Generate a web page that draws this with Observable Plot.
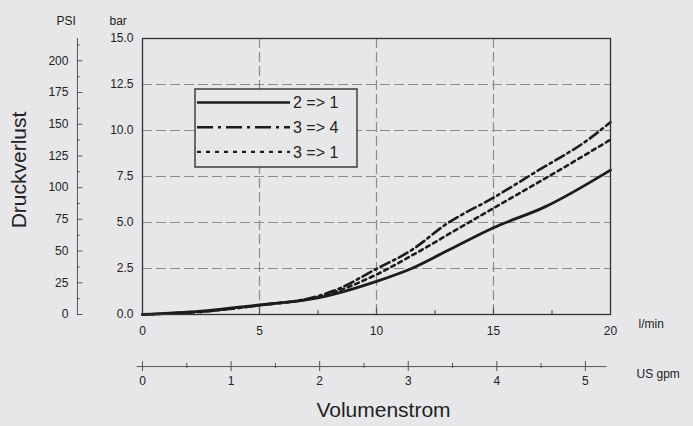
<!DOCTYPE html>
<html>
<head>
<meta charset="utf-8">
<script src="https://cdn.jsdelivr.net/npm/d3@7"></script>
<script src="https://cdn.jsdelivr.net/npm/@observablehq/plot@0.6"></script>
<style>
  html, body { margin: 0; padding: 0; background: #e7e7e9; }
  #chart { position: relative; width: 693px; height: 426px; }
</style>
</head>
<body>
<div id="chart"></div>
<script>
// ---- data ----
const flow21 = [0, 2.5, 5, 7.5, 10, 11.5, 13, 15, 17.2, 20];
const dp21   = [0, 0.18, 0.52, 0.9, 1.8, 2.5, 3.45, 4.72, 5.85, 7.85];
const flow34 = [0, 2.5, 5, 7.5, 8.2, 10, 11.5, 13, 15, 17, 19, 20];
const dp34   = [0, 0.15, 0.5, 1.0, 1.3, 2.48, 3.5, 4.93, 6.35, 7.9, 9.46, 10.45];
const flow31 = [0, 2.5, 5, 7.5, 10, 11.5, 13, 15, 17.3, 20];
const dp31   = [0, 0.15, 0.5, 0.95, 2.17, 3.2, 4.3, 5.78, 7.46, 9.5];

const seriesLabels = ["2 => 1", "3 => 4", "3 => 1"];
const xTicks = [0, 5, 10, 15, 20];           // l/min
const xMinor = [2.5, 7.5, 12.5, 17.5];
const yTicks = [0, 2.5, 5, 7.5, 10, 12.5, 15]; // bar
const psiMajor = [0, 25, 50, 75, 100, 125, 150, 175, 200];
const psiMinor = [12.5, 37.5, 62.5, 87.5, 112.5, 137.5, 162.5, 187.5, 212.5];
const gpmMajor = [0, 1, 2, 3, 4, 5];
const gpmMinor = [0.5, 1.5, 2.5, 3.5, 4.5];

const PSI_PER_BAR = 14.5038;
const L_PER_GAL = 3.78541;

const toRows = (xs, ys) => xs.map((f, i) => ({flow: f, dp: ys[i]}));
const s21 = toRows(flow21, dp21);
const s34 = toRows(flow34, dp34);
const s31 = toRows(flow31, dp31);

// layout helpers (secondary axes placed in scale units outside the frame)
const psiX = -2.78;   // l/min position of the PSI axis line
const gpmY = -2.83;   // bar position of the gpm axis line

const font = "'Liberation Sans', Arial, Helvetica, sans-serif";
const ink = "#222";
const axisInk = "#555";
const lineInk = "#1c1c1c";
const gridStyle = {stroke: "#8c8c8c", strokeOpacity: 1, strokeWidth: 1.2, strokeDasharray: "10,4"};

const plot = Plot.plot({
  width: 693,
  height: 426,
  marginLeft: 142,
  marginRight: 83,
  marginTop: 38,
  marginBottom: 112,
  style: {background: "transparent", fontFamily: font, fontSize: "12px", color: ink, overflow: "visible"},
  x: {domain: [0, 20], ticks: xTicks, tickSize: 0, tickPadding: 12, label: null},
  y: {domain: [0, 15], ticks: yTicks, tickSize: 0, tickPadding: 9, tickFormat: d3.format(".1f"), label: null},
  marks: [
    // grid
    Plot.ruleX(xTicks.slice(1, -1), gridStyle),
    Plot.ruleY(yTicks.slice(1, -1), gridStyle),
    // bottom ticks
    Plot.ruleX(xMinor, {y1: 0, y2: 0.2, stroke: "#333", strokeWidth: 1}),
    Plot.ruleX(xTicks.slice(1, -1), {y1: 0, y2: 0.35, stroke: "#555", strokeWidth: 1.2}),
    // curves
    Plot.line(s21, {x: "flow", y: "dp", stroke: lineInk, strokeWidth: 2.8, curve: "monotone-x"}),
    Plot.line(s34, {x: "flow", y: "dp", stroke: lineInk, strokeWidth: 2.6, strokeDasharray: "10,4,2.5,4", curve: "monotone-x"}),
    Plot.line(s31, {x: "flow", y: "dp", stroke: lineInk, strokeWidth: 2.6, strokeDasharray: "4,4", curve: "monotone-x"}),
    Plot.frame({stroke: "#333", strokeWidth: 1.3}),
    // PSI axis
    Plot.ruleX([psiX], {y1: 0, y2: 15, stroke: axisInk, strokeWidth: 1}),
    Plot.ruleY(psiMajor, {y: p => p / PSI_PER_BAR, x1: psiX, x2: psiX + 0.23, stroke: axisInk, strokeWidth: 1}),
    Plot.ruleY(psiMinor, {y: p => p / PSI_PER_BAR, x1: psiX, x2: psiX + 0.12, stroke: axisInk, strokeWidth: 1}),
    Plot.text(psiMajor, {x: psiX, y: p => p / PSI_PER_BAR, text: d => String(d), textAnchor: "end", dx: -9, fill: ink, fontSize: 12}),
    // US gpm axis
    Plot.ruleY([gpmY], {x1: -0.23, x2: 19.86, stroke: axisInk, strokeWidth: 1}),
    Plot.ruleX(gpmMajor, {x: g => g * L_PER_GAL, y1: gpmY - 0.27, y2: gpmY + 0.27, stroke: axisInk, strokeWidth: 1}),
    Plot.ruleX(gpmMinor, {x: g => g * L_PER_GAL, y1: gpmY - 0.1, y2: gpmY + 0.17, stroke: axisInk, strokeWidth: 1}),
    Plot.text(gpmMajor, {x: g => g * L_PER_GAL, y: gpmY, dy: 15, text: d => String(d), fill: ink, fontSize: 12}),
    // unit labels and titles
    Plot.text(["PSI"], {frameAnchor: "top-left", dx: -86, dy: -22, fill: ink, fontSize: 12}),
    Plot.text(["bar"], {frameAnchor: "top-left", dx: -33, dy: -22, fill: ink, fontSize: 12}),
    Plot.text(["l/min"], {frameAnchor: "bottom-right", dx: 28, dy: 13, textAnchor: "start", fill: ink, fontSize: 12}),
    Plot.text(["US gpm"], {frameAnchor: "bottom-right", dx: 26, dy: 63, textAnchor: "start", fill: ink, fontSize: 12}),
    Plot.text(["Volumenstrom"], {frameAnchor: "bottom", dx: 7, dy: 102, fill: ink, fontSize: 21})
  ]
});

document.getElementById("chart").appendChild(plot);

const svg = d3.select(plot.tagName.toLowerCase() === "svg" ? plot : plot.querySelector("svg"));

// y-axis title (rotated)
svg.append("text")
  .attr("transform", "translate(18,170) rotate(-90)")
  .attr("text-anchor", "middle").attr("dy", "0.36em")
  .attr("font-family", font).attr("font-size", 21).attr("fill", ink)
  .text("Druckverlust");

// ---- legend box ----
const dashes = [null, "16,5,3,5", "4,5"];
const widths = [2.6, 2.6, 2.4];
const lg = svg.append("g").attr("transform", "translate(195,89)");
lg.append("rect").attr("width", 162).attr("height", 78)
  .attr("fill", "#e7e7e9").attr("stroke", "#333").attr("stroke-width", 1.4);
seriesLabels.forEach((lab, i) => {
  const y = 13.5 + i * 24.7;
  const ln = lg.append("line").attr("x1", 2).attr("x2", 95).attr("y1", y).attr("y2", y)
    .attr("stroke", lineInk).attr("stroke-width", widths[i]);
  if (dashes[i]) ln.attr("stroke-dasharray", dashes[i]);
  lg.append("text").attr("x", 98).attr("y", y).attr("dy", "0.36em")
    .attr("text-anchor", "start")
    .attr("font-family", font).attr("font-size", 16).attr("fill", ink).text(lab);
});
</script>
</body>
</html>
